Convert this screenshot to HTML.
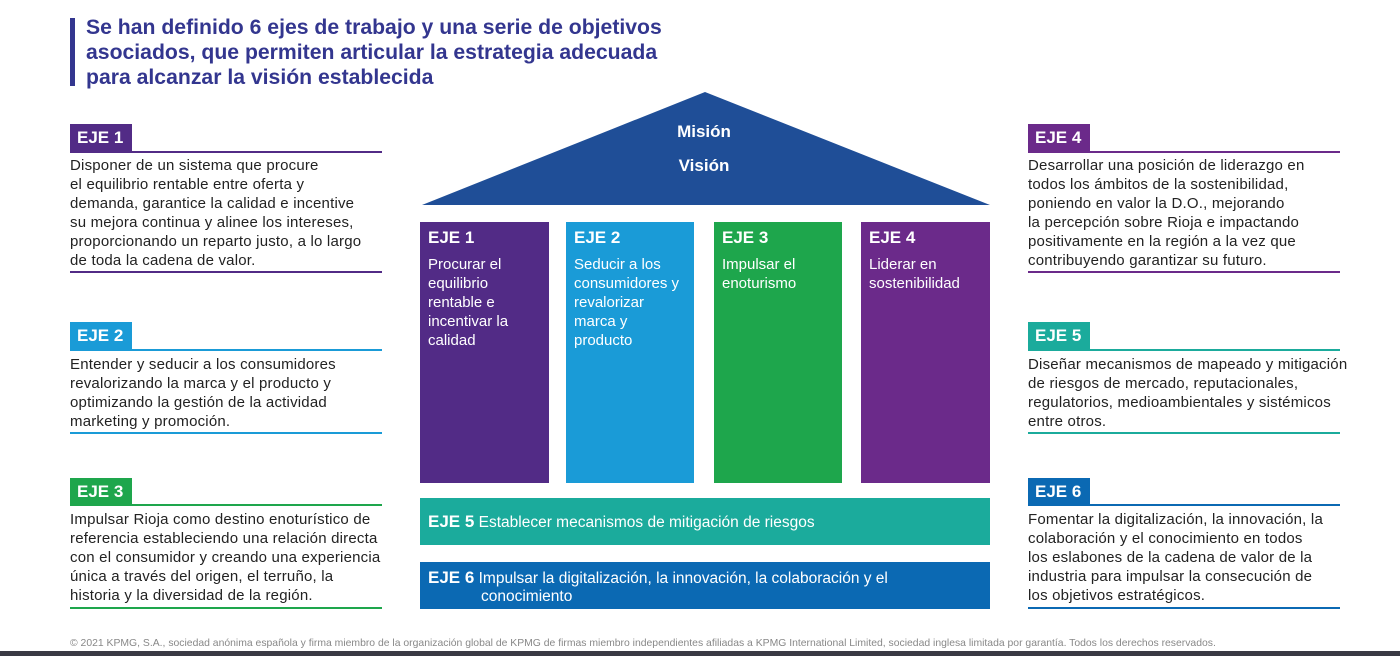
<!DOCTYPE html>
<html><head><meta charset="utf-8"><style>
*{margin:0;padding:0;box-sizing:border-box}
body{width:1400px;height:656px;background:#fff;position:relative;overflow:hidden;font-family:"Liberation Sans",sans-serif}
.a{position:absolute}
.title{left:86px;top:15px;font-size:21.2px;font-weight:bold;color:#33368f;line-height:25px;white-space:nowrap}
.tag{position:absolute;height:28px;color:#fff;font-weight:bold;font-size:17px;line-height:28px;padding-left:7px;width:62px}
.ul{position:absolute;height:2px;width:312px}
.txt{position:absolute;width:340px;font-size:15px;letter-spacing:0.2px;line-height:19px;color:#222;white-space:nowrap}
.col{position:absolute;top:222px;height:261px;color:#fff;padding:6px 8px}
.col b{font-size:17px;display:block;margin-bottom:7px}
.col span{font-size:15px;line-height:19px;display:block}
.bar{position:absolute;left:420px;width:570px;height:47px;color:#fff;font-size:15.5px;padding:14px 8px;white-space:nowrap}
.bar b{font-size:17px}
</style></head><body>
<div class="a" style="left:70px;top:18px;width:5px;height:68px;background:#33368f"></div>
<div class="a title">Se han definido 6 ejes de trabajo y una serie de objetivos<br>asociados, que permiten articular la estrategia adecuada<br>para alcanzar la visión establecida</div>

<svg class="a" style="left:0;top:0" width="1400" height="656"><polygon points="705,92 422,205 990,205" fill="#1f4e97"/>
<text x="704" y="137" fill="#fff" font-family="Liberation Sans" font-weight="bold" font-size="17" text-anchor="middle">Misión</text>
<text x="704" y="171" fill="#fff" font-family="Liberation Sans" font-weight="bold" font-size="17" text-anchor="middle">Visión</text></svg>

<div class="col" style="left:420px;width:129px;background:#522b86"><b>EJE 1</b><span>Procurar el equilibrio rentable e incentivar la calidad</span></div>
<div class="col" style="left:566px;width:128px;background:#1a9bd7"><b>EJE 2</b><span>Seducir a los consumidores y revalorizar marca y producto</span></div>
<div class="col" style="left:714px;width:128px;background:#1ea64c"><b>EJE 3</b><span>Impulsar el enoturismo</span></div>
<div class="col" style="left:861px;width:129px;background:#6b2a8a"><b>EJE 4</b><span>Liderar en sostenibilidad</span></div>
<div class="bar" style="top:498px;background:#1bab9c"><b>EJE 5</b> Establecer mecanismos de mitigación de riesgos</div>
<div class="bar" style="top:562px;background:#0b69b3;padding-top:7px;line-height:18px"><b>EJE 6</b> Impulsar la digitalización, la innovación, la colaboración y el<br><span style="padding-left:53px">conocimiento</span></div>

<div class="tag" style="left:70px;top:124px;background:#522b86">EJE 1</div>
<div class="ul" style="left:70px;top:151px;background:#522b86"></div>
<div class="txt" style="left:70px;top:156px">Disponer de un sistema que procure<br>el equilibrio rentable entre oferta y<br>demanda, garantice la calidad e incentive<br>su mejora continua y alinee los intereses,<br>proporcionando un reparto justo, a lo largo<br>de toda la cadena de valor.</div>
<div class="ul" style="left:70px;top:271px;background:#522b86"></div>

<div class="tag" style="left:70px;top:322px;background:#1a9bd7">EJE 2</div>
<div class="ul" style="left:70px;top:349px;background:#1a9bd7"></div>
<div class="txt" style="left:70px;top:355px">Entender y seducir a los consumidores<br>revalorizando la marca y el producto y<br>optimizando la gestión de la actividad<br>marketing y promoción.</div>
<div class="ul" style="left:70px;top:432px;background:#1a9bd7"></div>

<div class="tag" style="left:70px;top:478px;background:#1ea64c;height:27px;line-height:27px">EJE 3</div>
<div class="ul" style="left:70px;top:504px;background:#1ea64c"></div>
<div class="txt" style="left:70px;top:510px">Impulsar Rioja como destino enoturístico de<br>referencia estableciendo una relación directa<br>con el consumidor y creando una experiencia<br>única a través del origen, el terruño, la<br>historia y la diversidad de la región.</div>
<div class="ul" style="left:70px;top:607px;background:#1ea64c"></div>

<div class="tag" style="left:1028px;top:124px;background:#6b2a8a">EJE 4</div>
<div class="ul" style="left:1028px;top:151px;background:#6b2a8a"></div>
<div class="txt" style="left:1028px;top:156px">Desarrollar una posición de liderazgo en<br>todos los ámbitos de la sostenibilidad,<br>poniendo en valor la D.O., mejorando<br>la percepción sobre Rioja e impactando<br>positivamente en la región a la vez que<br>contribuyendo garantizar su futuro.</div>
<div class="ul" style="left:1028px;top:271px;background:#6b2a8a"></div>

<div class="tag" style="left:1028px;top:322px;background:#1bab9c">EJE 5</div>
<div class="ul" style="left:1028px;top:349px;background:#1bab9c"></div>
<div class="txt" style="left:1028px;top:355px">Diseñar mecanismos de mapeado y mitigación<br>de riesgos de mercado, reputacionales,<br>regulatorios, medioambientales y sistémicos<br>entre otros.</div>
<div class="ul" style="left:1028px;top:432px;background:#1bab9c"></div>

<div class="tag" style="left:1028px;top:478px;background:#0b69b3;height:27px;line-height:27px">EJE 6</div>
<div class="ul" style="left:1028px;top:504px;background:#0b69b3"></div>
<div class="txt" style="left:1028px;top:510px">Fomentar la digitalización, la innovación, la<br>colaboración y el conocimiento en todos<br>los eslabones de la cadena de valor de la<br>industria para impulsar la consecución de<br>los objetivos estratégicos.</div>
<div class="ul" style="left:1028px;top:607px;background:#0b69b3"></div>

<div class="a" style="left:70px;top:638px;font-size:10.4px;color:#888;white-space:nowrap">© 2021 KPMG, S.A., sociedad anónima española y firma miembro de la organización global de KPMG de firmas miembro independientes afiliadas a KPMG International Limited, sociedad inglesa limitada por garantía. Todos los derechos reservados.</div>
<div class="a" style="left:0;top:651px;width:1400px;height:5px;background:#3a3a44"></div>
</body></html>
